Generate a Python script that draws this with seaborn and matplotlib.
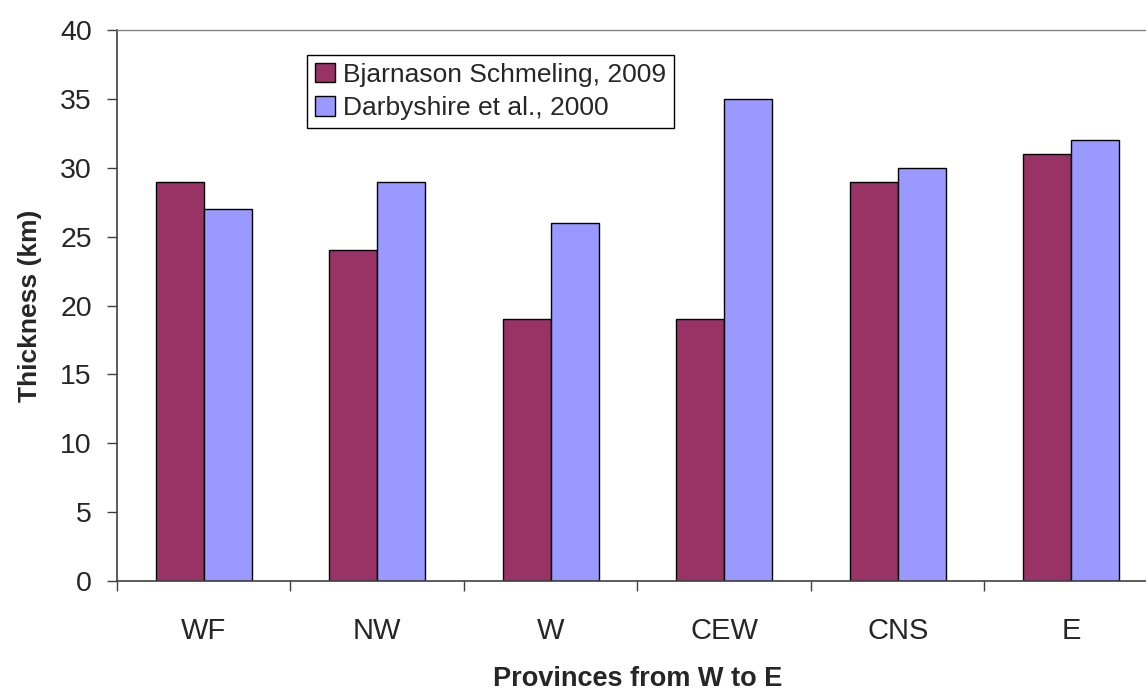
import pandas as pd
import matplotlib.pyplot as plt
import seaborn as sns

# --- DATA ---
provinces = ['WF', 'NW', 'W', 'CEW', 'CNS', 'E']
bjarnason = [29, 24, 19, 19, 29, 31]
darbyshire = [27, 29, 26, 35, 30, 32]
series_names = ['Bjarnason Schmeling, 2009', 'Darbyshire et al., 2000']

df = pd.DataFrame({
    'Province': provinces * 2,
    'Thickness': bjarnason + darbyshire,
    'Source': [series_names[0]] * len(provinces) + [series_names[1]] * len(provinces),
})

sns.set_style("white")
plt.rcParams['font.family'] = ['Liberation Sans', 'DejaVu Sans']

fig = plt.figure(figsize=(11.46, 6.93), dpi=100)
# plot area runs past the right edge, like the original crop
ax = fig.add_axes([117 / 1146, 112 / 693, 1041 / 1146, 551 / 693])

sns.barplot(data=df, x='Province', y='Thickness', hue='Source',
            palette=['#993366', '#9999FF'], width=0.553,
            edgecolor='black', linewidth=1.0, saturation=1, ax=ax)

ax.set_xlim(-0.5, len(provinces) - 0.5)
ax.set_ylim(0, 40)
ax.set_yticks(range(0, 41, 5))
ax.tick_params(axis='y', labelsize=20.5, length=7, width=1, color='#404040',
               direction='out', left=True, pad=11)

# ticks at category boundaries, labels at centers
ax.set_xticks([i - 0.5 for i in range(len(provinces) + 1)])
ax.set_xticklabels([])
ax.set_xticks(range(len(provinces)), minor=True)
ax.set_xticklabels(provinces, minor=True)
ax.tick_params(axis='x', which='major', length=7, width=1, color='#404040',
               direction='out', bottom=True)
ax.tick_params(axis='x', which='minor', length=0, labelsize=21, pad=26)

for side in ['left', 'bottom']:
    ax.spines[side].set_color('#404040')
    ax.spines[side].set_linewidth(1.2)
ax.spines['top'].set_color('#808080')
ax.spines['top'].set_linewidth(1)
ax.spines['right'].set_visible(False)

ax.set_ylabel('Thickness (km)', fontsize=19, fontweight='bold', labelpad=13)
ax.set_xlabel('Provinces from W to E', fontsize=19.5, fontweight='bold', labelpad=15)

leg = ax.legend(loc='upper left', bbox_to_anchor=(0.1825, 0.9546),
                borderaxespad=0, fontsize=19, frameon=True, fancybox=False,
                edgecolor='black', framealpha=1, handlelength=0.75,
                handleheight=0.75, handletextpad=0.3, labelspacing=0.35,
                borderpad=0.3)
leg.get_frame().set_linewidth(1)

plt.savefig("out.png", dpi=100)
